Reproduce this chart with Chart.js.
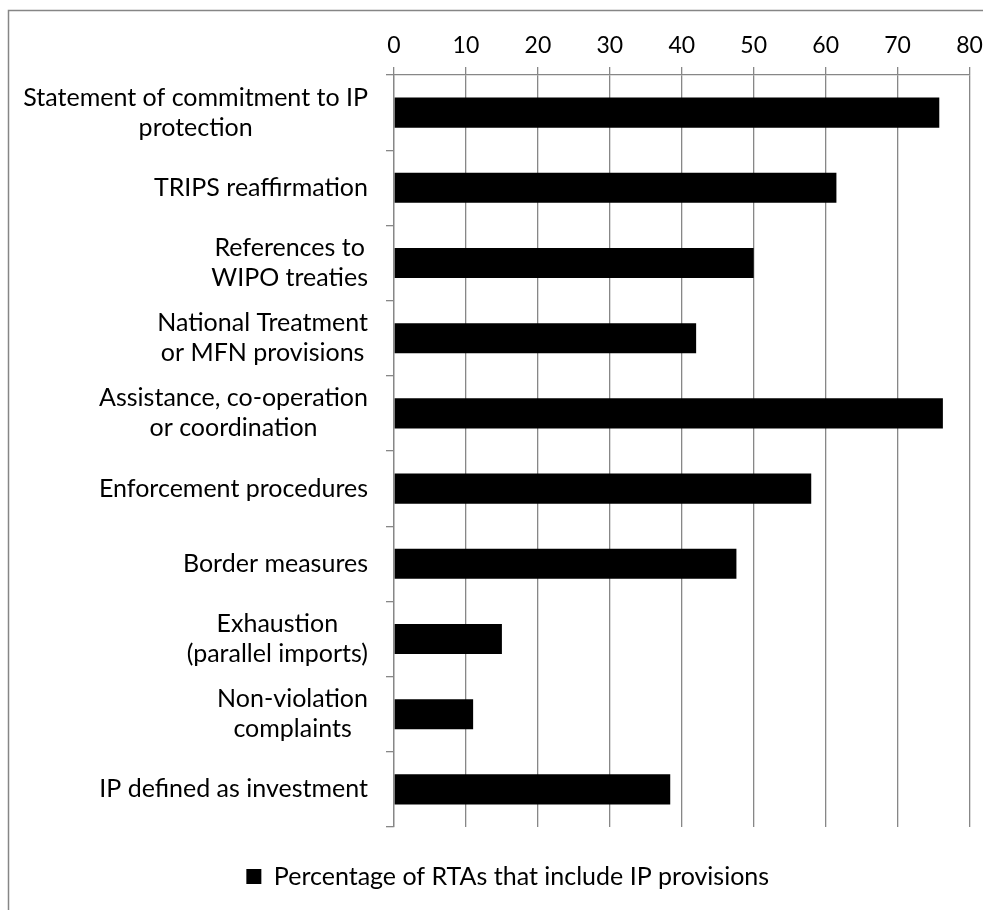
<!DOCTYPE html>
<html>
<head>
<meta charset="utf-8">
<script src="https://cdn.jsdelivr.net/npm/chart.js@4/dist/chart.umd.min.js"></script>
<style>
  html, body { margin: 0; padding: 0; background: #fff; }
  canvas { display: block; }
</style>
</head>
<body>
<canvas id="chart" width="983" height="910"></canvas>
<script>
// data
const categories = [
  ['Statement of commitment to IP', 'protection'],
  'TRIPS reaffirmation',
  ['References to', 'WIPO treaties'],
  ['National Treatment', 'or MFN provisions'],
  ['Assistance, co-operation', 'or coordination'],
  'Enforcement procedures',
  'Border measures',
  ['Exhaustion', '(parallel imports)'],
  ['Non-violation', 'complaints'],
  'IP defined as investment'
];
const percentages = [75.8, 61.5, 50, 42, 76.3, 58, 47.6, 15, 11, 38.4];
const seriesLabel = 'Percentage of RTAs that include IP provisions';
const xMin = 0, xMax = 80, xStep = 10;

const FONT = 'Lato';
const gridGray = '#878787';

// category labels: block right-aligned, lines centred inside the block (as in Excel)
const categoryLabels = {
  id: 'categoryLabels',
  afterDraw(chart) {
    const ctx = chart.ctx;
    const y = chart.scales.y;
    ctx.save();
    ctx.font = '25px ' + FONT;
    ctx.fillStyle = '#000';
    ctx.textAlign = 'center';
    ctx.textBaseline = 'middle';
    categories.forEach((lab, i) => {
      const lines = Array.isArray(lab) ? lab : [lab];
      const w = Math.max(...lines.map(l => ctx.measureText(l).width));
      const cx = y.right - 26 - w / 2;
      const cy = y.getPixelForValue(i);
      lines.forEach((l, j) => {
        ctx.fillText(l, cx, cy + (j - (lines.length - 1) / 2) * 30);
      });
    });
    ctx.restore();
  }
};

// outer chart frame (left and top edges visible)
const frame = {
  id: 'frame',
  beforeDraw(chart) {
    const ctx = chart.ctx;
    ctx.save();
    ctx.strokeStyle = '#868686';
    ctx.lineWidth = 1.5;
    ctx.beginPath();
    ctx.moveTo(8.5, chart.height);
    ctx.lineTo(8.5, 10.5);
    ctx.lineTo(chart.width, 10.5);
    ctx.stroke();
    ctx.restore();
  }
};

const ctx = document.getElementById('chart').getContext('2d');
const chart = new Chart(ctx, {
  type: 'bar',
  data: {
    labels: categories,
    datasets: [{
      label: seriesLabel,
      data: percentages,
      backgroundColor: '#000',
      borderWidth: 0,
      barPercentage: 0.4,
      categoryPercentage: 1
    }]
  },
  options: {
    indexAxis: 'y',
    responsive: false,
    animation: false,
    layout: { padding: { left: 46, right: 13.5, top: 0, bottom: 11 } },
    scales: {
      x: {
        position: 'top',
        min: xMin,
        max: xMax,
        ticks: { stepSize: xStep, color: '#000', font: { family: FONT, size: 23 }, padding: 8 },
        grid: { color: gridGray, lineWidth: 1.3, tickLength: 8, tickColor: gridGray },
        border: { color: gridGray, width: 1.3 },
        afterFit(scale) {
          scale.height = 75;
          scale.paddingLeft = 0;
          scale.paddingRight = 0;
        }
      },
      y: {
        offset: true,
        ticks: { display: false },
        grid: { drawOnChartArea: false, tickLength: 8, color: gridGray, lineWidth: 1.3, offset: true },
        border: { color: gridGray, width: 1.3 },
        afterFit(scale) {
          scale.width = 394 - 46;
          scale.paddingTop = 0;
          scale.paddingBottom = 0;
        }
      }
    },
    plugins: {
      legend: {
        position: 'bottom',
        labels: {
          boxWidth: 15,
          boxHeight: 15,
          padding: 37,
          color: '#000',
          font: { family: FONT, size: 25 }
        }
      },
      tooltip: { enabled: false }
    }
  },
  plugins: [frame, categoryLabels]
});
</script>
</body>
</html>
